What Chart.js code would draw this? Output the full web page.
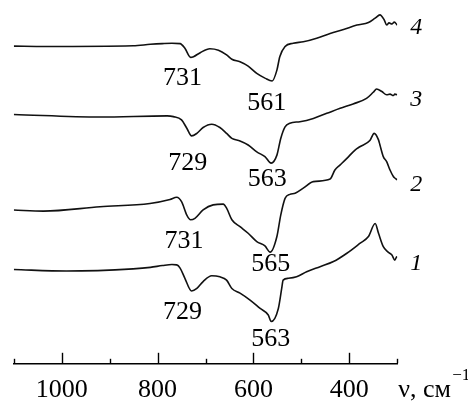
<!DOCTYPE html>
<html>
<head>
<meta charset="utf-8">
<script src="https://cdn.jsdelivr.net/npm/chart.js@4/dist/chart.umd.min.js"></script>
<style>
  html, body { margin: 0; padding: 0; background: #fff; }
  #wrap { width: 468px; height: 401px; }
</style>
</head>
<body>
<div id="wrap"><canvas id="ir" width="468" height="401"></canvas></div>
<script>
// IR spectra, transmittance (arbitrary units, curves offset vertically)
const wn1 = [1100,990,851,815,790,770,760,753,743,729,718,705,687,670,656,645,628,607,586,569,563,548,541,538,527,510,489,461,433,405,378,360,346,339,329,319,311,305,301,300];
const t1  = [25.8,25.4,26.0,26.4,26.9,27.2,27.1,26.2,23.4,19.9,20.6,22.5,24.1,23.8,22.9,20.6,19.3,17.4,15.1,13.3,11.5,15.1,20.6,22.9,23.4,23.8,25.2,26.6,28.0,30.3,33.0,34.9,38.5,35.8,32.1,30.6,29.8,28.4,29.3,29.0];

const wn2 = [1100,1038,920,816,774,760,750,739,731,722,705,684,663,656,645,628,611,593,576,565,551,543,534,524,513,496,475,440,430,419,405,388,378,357,348,339,336,329,322,315,308,305,300];
const t2  = [42.2,41.9,43.1,44.0,45.1,45.7,44.5,40.8,39.5,39.9,42.2,43.6,43.8,42.7,39.5,37.6,35.8,33.5,32.3,30.6,34.9,40.8,45.4,46.5,46.8,48.2,50.0,50.7,53.2,54.6,56.4,58.7,59.6,61.3,63.3,61.5,60.1,56.9,55.5,53.2,51.4,51.0,50.5];

const wn3 = [1100,920,780,767,750,739,729,718,705,687,670,656,645,628,611,593,576,563,551,543,534,524,503,475,447,419,392,364,350,343,332,322,315,308,305,300];
const t3  = [68.5,67.8,68.1,67.9,67.0,64.7,62.6,63.3,64.9,65.8,64.9,63.3,61.9,61.2,60.1,58.2,56.9,55.1,57.3,61.9,65.1,66.1,66.5,67.4,68.8,70.2,71.4,72.9,74.6,75.5,74.8,73.9,74.1,73.7,74.1,73.9];

const wn4 = [1100,1035,851,815,790,770,753,743,731,725,711,691,673,656,645,628,611,593,576,561,551,545,534,517,496,468,440,412,384,360,346,336,327,322,317,311,306,300];
const t4  = [87.3,87.2,87.4,87.8,88.0,88.1,88.0,86.7,84.2,84.4,85.5,86.6,86.2,84.9,83.7,83.0,81.8,79.8,78.5,77.7,80.7,84.4,87.2,88.1,88.5,89.5,90.8,91.9,93.1,93.8,95.0,95.9,94.5,93.1,93.7,93.4,93.9,93.1];

// axis ticks (cm^-1)
const tickValues = [1100,1000,900,800,700,600,500,400,300];
const tickLabels = ['1000','800','600','400'];

// band positions marked on the spectra
const peakText = ['731','561','729','563','731','565','729','563'];
const peakWn   = [748,572,737,571,745,564,748,564];
const peakT    = [79.1,72.2,55.7,51.3,34.2,27.7,14.7,7.3];

// curve numbers at the right-hand end
const curveNames = ['4','3','2','1'];
const curveNameT = [92.9,73.0,49.8,27.9];

const SERIF = '"Liberation Serif", "Times New Roman", serif';

function pts(xs, ys) { return xs.map((x, i) => ({ x: x, y: ys[i] })); }
function series(xs, ys) {
  return {
    data: pts(xs, ys),
    borderColor: '#111',
    borderWidth: 1.6,
    pointRadius: 0,
    fill: false,
    cubicInterpolationMode: 'monotone'
  };
}

const decor = {
  id: 'decor',
  afterDraw(chart) {
    const ctx = chart.ctx;
    const xs = chart.scales.x, ys = chart.scales.y;
    const area = chart.chartArea;
    ctx.save();
    // tick marks pointing up from the axis line
    ctx.strokeStyle = '#000';
    ctx.lineWidth = 1.4;
    tickValues.forEach(v => {
      const px = Math.round(xs.getPixelForValue(v)) + 0.5;
      const len = (v % 200 === 0) ? 10.5 : 4.5;
      ctx.beginPath();
      ctx.moveTo(px, area.bottom);
      ctx.lineTo(px, area.bottom - len);
      ctx.stroke();
    });
    // band labels
    ctx.fillStyle = '#000';
    ctx.font = '26px ' + SERIF;
    ctx.textAlign = 'center';
    ctx.textBaseline = 'alphabetic';
    peakText.forEach((t, i) => {
      ctx.fillText(t, xs.getPixelForValue(peakWn[i]), ys.getPixelForValue(peakT[i]) + 8.8);
    });
    // curve numbers
    ctx.font = 'italic 24px ' + SERIF;
    curveNames.forEach((t, i) => {
      ctx.fillText(t, area.right + 19, ys.getPixelForValue(curveNameT[i]) + 8.2);
    });
    // axis title
    ctx.textAlign = 'left';
    ctx.font = '26px ' + SERIF;
    ctx.fillText('\u03BD, \u0441\u043C', area.right + 1, 396.5);
    ctx.font = '17px ' + SERIF;
    ctx.fillText('\u22121', area.right + 55, 379.5);
    ctx.restore();
  }
};

new Chart(document.getElementById('ir'), {
  type: 'line',
  data: {
    datasets: [series(wn1, t1), series(wn2, t2), series(wn3, t3), series(wn4, t4)]
  },
  options: {
    responsive: false,
    animation: false,
    devicePixelRatio: 1,
    layout: { padding: { left: 13.8, right: 70.8, top: 0, bottom: 0 } },
    plugins: { legend: { display: false }, tooltip: { enabled: false } },
    scales: {
      x: {
        type: 'linear',
        reverse: true,
        min: 300,
        max: 1100,
        afterFit(scale) { scale.height = 37.7; },
        afterBuildTicks(scale) { scale.ticks = tickValues.map(v => ({ value: v })); },
        grid: { display: false },
        border: { display: true, color: '#000', width: 1.5 },
        ticks: {
          autoSkip: false,
          maxRotation: 0,
          padding: 3.5,
          color: '#000',
          font: { family: SERIF, size: 26 },
          callback: v => (tickLabels.includes(String(v)) ? String(v) : '')
        }
      },
      y: { display: false, min: 0, max: 100 }
    }
  },
  plugins: [decor]
});
</script>
</body>
</html>
